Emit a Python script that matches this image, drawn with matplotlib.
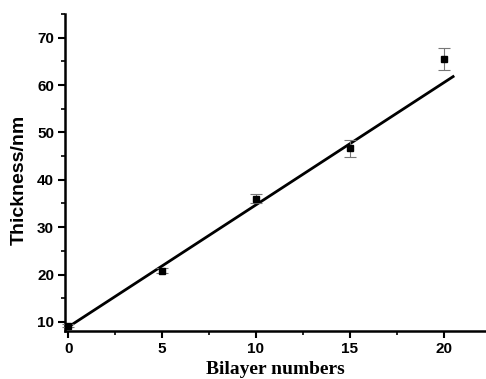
import numpy as np
import matplotlib
matplotlib.use('Agg')
import matplotlib.pyplot as plt
from matplotlib.ticker import MultipleLocator

# データ
bilayers = [0, 5, 10, 15, 20]
thickness = [9.2, 20.8, 36.0, 46.7, 65.5]
thickness_err = [0.3, 0.5, 1.0, 1.8, 2.4]

# 線形フィット
fit_slope = 2.58
fit_intercept = 8.9
fit_range = [0, 20.5]

fig = plt.figure(figsize=(4.86, 3.79), dpi=100)
ax = fig.add_axes([0.134, 0.127, 0.864, 0.836])

ax.errorbar(bilayers, thickness, yerr=thickness_err, fmt='s', color='black',
            markersize=5, ecolor='#777777', elinewidth=0.8, capsize=4,
            capthick=0.8, clip_on=False, zorder=3)

fx = np.array(fit_range)
ax.plot(fx, fit_intercept + fit_slope * fx, color='black', lw=2, zorder=2)

ax.set_xlim(-0.16, 22.2)
ax.set_ylim(8.1, 75)
ax.xaxis.set_major_locator(MultipleLocator(5))
ax.xaxis.set_minor_locator(MultipleLocator(2.5))
ax.yaxis.set_minor_locator(MultipleLocator(5))
ax.set_yticks([10, 20, 30, 40, 50, 60, 70])

for s in ['top', 'right']:
    ax.spines[s].set_visible(False)
for s in ['left', 'bottom']:
    ax.spines[s].set_linewidth(1.8)

ax.tick_params(which='major', direction='out', length=5, width=1.5, pad=3)
ax.tick_params(which='minor', direction='out', length=3, width=1.2)
for lab in ax.get_xticklabels() + ax.get_yticklabels():
    lab.set_fontfamily('Liberation Sans')
    lab.set_fontweight('bold')
    lab.set_fontsize(11)

ax.set_xlabel('Bilayer numbers', fontfamily='Liberation Serif',
              fontweight='bold', fontsize=14)
ax.set_ylabel('Thickness/nm', fontfamily='Liberation Sans',
              fontweight='bold', fontsize=14)
ax.xaxis.set_label_coords(0.5, -0.094)
ax.yaxis.set_label_coords(-0.088, 0.475)

fig.savefig('out.png', dpi=100)
